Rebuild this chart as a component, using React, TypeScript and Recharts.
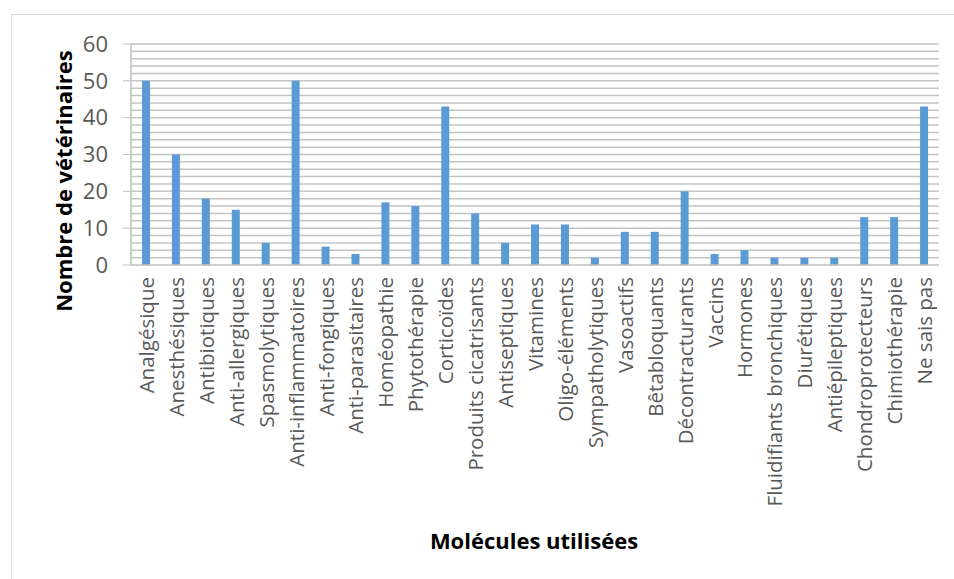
import React from "react";
import { BarChart, Bar, XAxis, YAxis, ReferenceLine } from "recharts";

const categories = [
  "Analgésique",
  "Anesthésiques",
  "Antibiotiques",
  "Anti-allergiques",
  "Spasmolytiques",
  "Anti-inflammatoires",
  "Anti-fongiques",
  "Anti-parasitaires",
  "Homéopathie",
  "Phytothérapie",
  "Corticoïdes",
  "Produits cicatrisants",
  "Antiseptiques",
  "Vitamines",
  "Oligo-éléments",
  "Sympatholytiques",
  "Vasoactifs",
  "Bêtabloquants",
  "Décontracturants",
  "Vaccins",
  "Hormones",
  "Fluidifiants bronchiques",
  "Diurétiques",
  "Antiépileptiques",
  "Chondroprotecteurs",
  "Chimiothérapie",
  "Ne sais pas",
];

const counts = [50, 30, 18, 15, 6, 50, 5, 3, 17, 16, 43, 14, 6, 11, 11, 2, 9, 9, 20, 3, 4, 2, 2, 2, 13, 13, 43];

const yTicks = [0, 10, 20, 30, 40, 50, 60];
// minor gridlines every 2 units, like the Excel original
const gridValues = [2, 4, 6, 8, 10, 12, 14, 16, 18, 20, 22, 24, 26, 28, 30, 32, 34, 36, 38, 40, 42, 44, 46, 48, 50, 52, 54, 56, 58, 60];

const data = categories.map((name, i) => ({ name, value: counts[i] }));

const FONT = "'Open Sans', 'DejaVu Sans', sans-serif";

function XTick({ x, y, payload }: any) {
  return (
    <text
      x={x}
      y={y}
      transform={`rotate(-90, ${x}, ${y})`}
      textAnchor="end"
      dominantBaseline="central"
      fill="#595959"
      fontSize={20.5}
      fontFamily={FONT}
    >
      {payload.value}
    </text>
  );
}

export default function App() {
  return (
    <div style={{ position: "absolute", left: 0, top: 0, width: 954, height: 579, overflow: "hidden", background: "#fff" }}>
      <style>{`body{margin:0}`}</style>
      <div
        style={{
          position: "absolute",
          left: 11,
          top: 14,
          width: 960,
          height: 600,
          border: "1.5px solid #d9d9d9",
        }}
      />
      <div style={{ position: "absolute", left: 0, top: 0 }}>
        <BarChart
          width={954}
          height={579}
          data={data}
          margin={{ top: 44, right: 15, left: 0, bottom: 0 }}
          barSize={8}
        >
          {gridValues.map((v) => (
            <ReferenceLine key={v} y={v} stroke="#c4c4c4" strokeWidth={1.5} zIndex={-50} />
          ))}
          <XAxis
            dataKey="name"
            interval={0}
            height={314}
            tickLine={false}
            axisLine={{ stroke: "#bfbfbf", strokeWidth: 1.5 }}
            tick={<XTick />}
            tickMargin={6}
            label={() => (
              <text x={534} y={540} textAnchor="middle" dominantBaseline="central" fontSize={22} fontWeight="bold" fontFamily={FONT} fill="#000">
                Molécules utilisées
              </text>
            )}
          />
          <YAxis
            width={131}
            domain={[0, 60]}
            ticks={yTicks}
            tickLine={{ stroke: "#bfbfbf" }}
            tickSize={8}
            axisLine={{ stroke: "#bfbfbf", strokeWidth: 1.5 }}
            tick={{ fill: "#595959", fontSize: 22, fontFamily: FONT }}
            tickMargin={15}
            label={() => (
              <text
                x={63}
                y={181}
                transform="rotate(-90, 63, 181)"
                textAnchor="middle"
                dominantBaseline="central"
                fontSize={22}
                fontWeight="bold"
                fontFamily={FONT}
                fill="#000"
              >
                Nombre de vétérinaires
              </text>
            )}
          />
          <Bar dataKey="value" fill="#5b9bd5" isAnimationActive={false} />
        </BarChart>
      </div>
    </div>
  );
}
